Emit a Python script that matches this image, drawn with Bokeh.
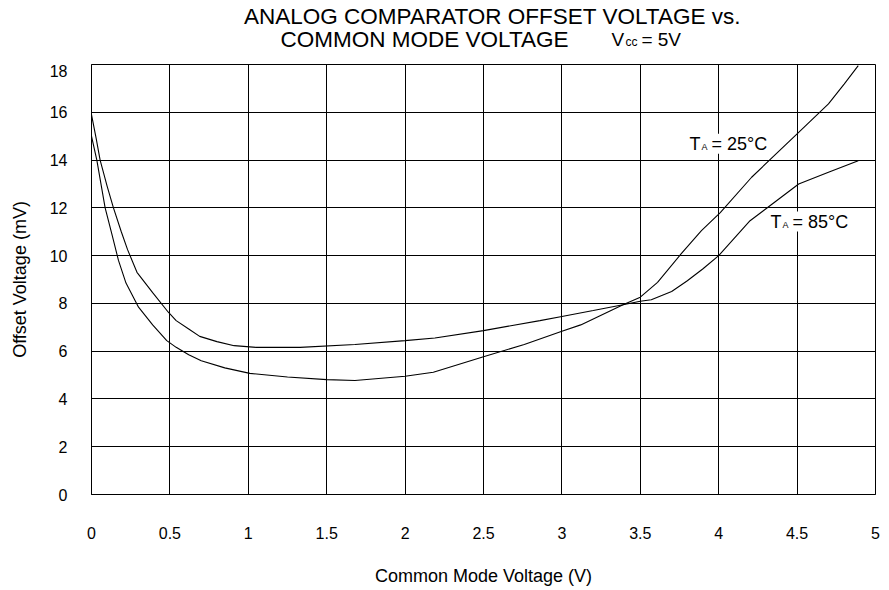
from bokeh.plotting import figure
from bokeh.models import Range1d, FixedTicker, Label
from bokeh.layouts import column
from bokeh.core.properties import value
from bokeh.embed import file_html
from bokeh.resources import INLINE

# ---- data ----
x_ticks = [0, 0.5, 1, 1.5, 2, 2.5, 3, 3.5, 4, 4.5, 5]
x_tick_labels = ["0", "0.5", "1", "1.5", "2", "2.5", "3", "3.5", "4", "4.5", "5"]
y_ticks = [0, 2, 4, 6, 8, 10, 12, 14, 16, 18]

x_85 = [0, 0.03, 0.055, 0.1, 0.14, 0.19, 0.23, 0.29, 0.39, 0.49, 0.54, 0.62, 0.69, 0.8,
        0.91, 1.05, 1.33, 1.68, 2.0, 2.19, 2.5, 2.86, 3.0, 3.2, 3.39, 3.5, 3.57, 3.7,
        3.8, 3.9, 4.0, 4.2, 4.35, 4.51, 4.7, 4.89]
y_85 = [15.9, 14.9, 14.0, 12.9, 12.0, 11.0, 10.25, 9.3, 8.45, 7.63, 7.28, 6.93, 6.62, 6.4,
        6.23, 6.16, 6.16, 6.28, 6.44, 6.55, 6.86, 7.28, 7.45, 7.7, 7.94, 8.09, 8.15, 8.5,
        8.95, 9.45, 10.0, 11.46, 12.2, 13.0, 13.49, 13.97]

x_25 = [0, 0.034, 0.087, 0.13, 0.172, 0.22, 0.30, 0.39, 0.48, 0.54, 0.62, 0.70, 0.85,
        1.01, 1.25, 1.5, 1.68, 2.0, 2.18, 2.5, 2.76, 3.0, 3.12, 3.39, 3.5, 3.61, 3.76,
        3.89, 4.01, 4.21, 4.51, 4.7, 4.8, 4.89]
y_25 = [15.0, 14.0, 12.0, 10.9, 9.8, 8.85, 7.84, 7.1, 6.44, 6.16, 5.85, 5.6, 5.3,
        5.07, 4.92, 4.81, 4.77, 4.95, 5.12, 5.77, 6.28, 6.83, 7.1, 7.94, 8.26, 8.88, 10.07,
        11.05, 11.8, 13.28, 15.16, 16.35, 17.18, 17.95]

title_line1 = "ANALOG COMPARATOR OFFSET VOLTAGE vs."
title_line2 = "COMMON MODE VOLTAGE"

FONT = "Liberation Sans"
LEFT, RIGHT = 91, 14

# ---- title strip (shares the chart's horizontal scale) ----
tf = figure(width=889, height=64, output_backend="svg", toolbar_location=None,
            x_range=Range1d(0, 5), y_range=Range1d(0, 64),
            min_border_left=LEFT, min_border_right=RIGHT, min_border_top=0, min_border_bottom=0)
tf.title = None
tf.axis.visible = False
tf.grid.visible = False
tf.outline_line_color = None
tf.background_fill_color = "white"
tf.border_fill_color = "white"

def ttext(x, y, s, size, align="left"):
    tf.text(x=[x], y=[y], text=[s], text_font=value(FONT), text_font_size=size,
            text_align=align, text_baseline="alphabetic", text_color="black")

ttext(2.557, 48.0, title_line1, "22.5px", "center")
ttext(2.124, 25.5, title_line2, "22.5px", "center")
ttext(3.316, 25.5, "V", "19px")
ttext(3.405, 22.5, "cc", "12px")
ttext(3.507, 25.5, "= 5V", "19px")

# ---- main chart ----
p = figure(width=889, height=526, output_backend="svg", toolbar_location=None,
           x_range=Range1d(0, 5), y_range=Range1d(0, 18),
           min_border_left=LEFT, min_border_right=RIGHT, min_border_top=0, min_border_bottom=96)
p.title = None
p.background_fill_color = "white"
p.border_fill_color = "white"
p.outline_line_color = "black"
p.outline_line_width = 1

p.xaxis.ticker = FixedTicker(ticks=x_ticks)
p.yaxis.ticker = FixedTicker(ticks=y_ticks)
p.xaxis.major_label_overrides = {t: l for t, l in zip(x_ticks, x_tick_labels)}
for ax in (p.xaxis, p.yaxis):
    ax.major_tick_line_color = None
    ax.minor_tick_line_color = None
    ax.major_tick_out = 0
    ax.major_tick_in = 0
    ax.minor_tick_out = 0
    ax.minor_tick_in = 0
    ax.axis_line_color = "black"
    ax.major_label_text_font = FONT
    ax.major_label_text_font_size = "16px"
    ax.major_label_text_color = "black"
    ax.axis_label_text_font = FONT
    ax.axis_label_text_font_size = "18px"
    ax.axis_label_text_font_style = "normal"
    ax.axis_label_text_color = "black"
p.xaxis.major_label_standoff = 32
p.yaxis.major_label_standoff = 24
p.xaxis.axis_label = "Common Mode Voltage (V)"
p.yaxis.axis_label = "Offset Voltage (mV)"
p.xaxis.axis_label_standoff = 24
p.yaxis.axis_label_standoff = 17

p.grid.grid_line_color = "black"
p.grid.grid_line_width = 1
p.grid.grid_line_alpha = 1

p.line(x_25, y_25, line_color="black", line_width=1.1)
p.line(x_85, y_85, line_color="black", line_width=1.1)

def lab(x, y, text, size, xo=0, yo=0):
    l = Label(x=x, y=y, text=text, text_font=FONT, text_font_size=size,
              text_align="left", text_baseline="alphabetic", x_offset=xo, y_offset=yo,
              text_color="black", background_fill_color="white", padding=0)
    p.add_layout(l)

# curve labels
lab(3.814, 14.39, "T", "18px", yo=7)
lab(3.814, 14.39, "= 25°C", "18px", xo=22, yo=7)
lab(3.814, 14.39, "A", "9px", xo=12, yo=4)
lab(4.33, 11.13, "T", "18px", yo=7)
lab(4.33, 11.13, "= 85°C", "18px", xo=22, yo=7)
lab(4.33, 11.13, "A", "9px", xo=12, yo=4)

layout = column(tf, p, spacing=0)
open("out.html", "w").write(file_html(layout, INLINE))
